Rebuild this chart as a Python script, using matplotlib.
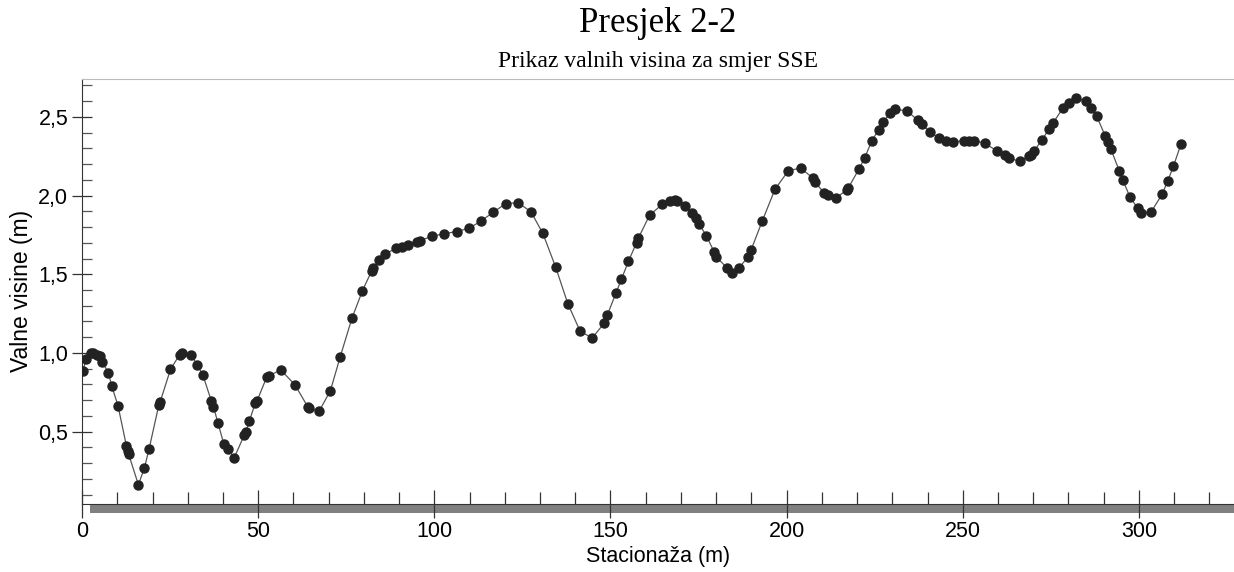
import matplotlib
matplotlib.use('Agg')
import matplotlib.pyplot as plt
import matplotlib.transforms as mtransforms
from matplotlib.patches import Rectangle
from matplotlib.ticker import MultipleLocator, FuncFormatter

# stacionaza (m) and valne visine (m)
stac = [0.2, 1.2, 2.5, 3.1, 4.1, 5.0, 5.8, 7.5, 8.4, 10.2, 12.6, 13.1, 13.2, 16.0, 17.7,
        19.0, 21.8, 22.2, 25.1, 27.7, 28.4, 31.0, 32.7, 34.3, 36.7, 37.3, 38.6, 40.2,
        41.3, 43.2, 46.1, 46.5, 47.5, 49.2, 49.7, 52.4, 53.1, 56.4, 60.4, 64.1, 64.4,
        67.3, 70.5, 73.3, 76.6, 79.6, 82.2, 82.6, 84.4, 86.0, 89.2, 90.7, 92.6, 95.0,
        95.9, 99.3, 102.8, 106.3, 109.8, 113.2, 116.7, 120.3, 123.7, 127.4, 130.8,
        134.4, 137.9, 141.4, 144.8, 148.2, 149.1, 151.6, 153.1, 155.1, 157.4, 157.9,
        161.1, 164.7, 166.9, 168.3, 169.0, 171.1, 173.1, 174.3, 175.1, 177.2, 179.4,
        180.0, 183.0, 184.6, 186.5, 189.0, 189.9, 193.1, 196.7, 200.5, 204.0, 207.4,
        208.1, 210.7, 211.8, 213.9, 217.1, 217.5, 220.6, 222.2, 224.2, 226.1, 227.4,
        229.4, 230.8, 234.2, 237.3, 238.3, 240.6, 243.3, 245.2, 247.2, 250.3, 251.8,
        253.3, 256.3, 259.6, 262.0, 263.1, 266.3, 268.9, 269.4, 270.3, 272.4, 274.5,
        275.7, 278.4, 280.1, 282.1, 284.9, 286.5, 288.0, 290.4, 291.1, 292.0, 294.4,
        295.4, 297.5, 299.7, 300.5, 303.4, 306.6, 308.2, 309.8, 312.0]
visina = [0.888, 0.962, 0.998, 1.002, 0.990, 0.983, 0.941, 0.873, 0.792, 0.665, 0.409,
          0.379, 0.358, 0.163, 0.269, 0.388, 0.670, 0.691, 0.896, 0.989, 1.002, 0.985,
          0.924, 0.860, 0.695, 0.657, 0.555, 0.424, 0.392, 0.335, 0.481, 0.496, 0.568,
          0.684, 0.697, 0.846, 0.856, 0.892, 0.799, 0.657, 0.649, 0.630, 0.761, 0.977,
          1.220, 1.396, 1.521, 1.538, 1.591, 1.629, 1.665, 1.675, 1.686, 1.707, 1.714,
          1.741, 1.758, 1.771, 1.792, 1.837, 1.894, 1.949, 1.955, 1.898, 1.760, 1.548,
          1.313, 1.138, 1.095, 1.189, 1.241, 1.383, 1.468, 1.582, 1.701, 1.729, 1.875,
          1.945, 1.966, 1.970, 1.966, 1.936, 1.889, 1.856, 1.822, 1.745, 1.644, 1.612,
          1.542, 1.508, 1.542, 1.608, 1.654, 1.839, 2.040, 2.158, 2.175, 2.112, 2.086,
          2.015, 2.004, 1.983, 2.036, 2.048, 2.171, 2.241, 2.349, 2.417, 2.466, 2.525,
          2.550, 2.537, 2.478, 2.457, 2.404, 2.366, 2.349, 2.341, 2.349, 2.349, 2.349,
          2.332, 2.285, 2.256, 2.237, 2.218, 2.254, 2.258, 2.285, 2.351, 2.423, 2.463,
          2.555, 2.586, 2.618, 2.601, 2.555, 2.506, 2.381, 2.342, 2.298, 2.158, 2.101,
          1.989, 1.919, 1.889, 1.894, 2.008, 2.093, 2.186, 2.330]

naslov = 'Presjek 2-2'
podnaslov = 'Prikaz valnih visina za smjer SSE'

sans = ['Liberation Sans', 'DejaVu Sans']
serif = ['Liberation Serif', 'DejaVu Serif']

fig = plt.figure(figsize=(12.34, 5.72), dpi=100)
ax = fig.add_axes([0.0665, 0.119, 0.9335, 0.743])

ax.plot(stac, visina, color='#555555', lw=0.9, zorder=2)
ax.plot(stac, visina, ls='none', marker='o', ms=6.5, color='#222222', zorder=3)

ax.set_xlim(0, 327)
ax.set_ylim(0.041, 2.741)

ax.xaxis.set_major_locator(MultipleLocator(50))
ax.xaxis.set_minor_locator(MultipleLocator(10))
ax.yaxis.set_major_locator(MultipleLocator(0.5))
ax.yaxis.set_minor_locator(MultipleLocator(0.1))
ax.yaxis.set_major_formatter(FuncFormatter(lambda v, p: f'{v:.1f}'.replace('.', ',')))
ax.xaxis.set_major_formatter(FuncFormatter(lambda v, p: f'{v:.0f}'))

ax.tick_params(axis='x', which='major', direction='inout', length=20, width=0.9,
               color='#333333', pad=2, labelsize=15.5)
ax.tick_params(axis='x', which='minor', direction='in', length=9, width=0.9, color='#333333')
ax.tick_params(axis='y', which='major', direction='inout', length=14, width=0.9,
               color='#333333', pad=3, labelsize=15.5)
ax.tick_params(axis='y', which='minor', direction='in', length=7.5, width=0.9, color='#555555')
for lab in ax.get_xticklabels() + ax.get_yticklabels():
    lab.set_family(sans)

ax.spines['right'].set_visible(False)
ax.spines['top'].set_color('#bbbbbb')
ax.spines['left'].set_color('#333333')
ax.spines['bottom'].set_color('#333333')

# grey ground strip under the x axis
trans = mtransforms.blended_transform_factory(ax.transData, ax.transAxes)
ax.add_patch(Rectangle((2.3, -0.021), 330, 0.018, transform=trans, clip_on=False,
                       facecolor='#808080', edgecolor='none', zorder=1))

ax.set_xlabel('Stacionaža (m)', family=sans, fontsize=15.5)
ax.set_ylabel('Valne visine (m)', family=sans, fontsize=16.5)
ax.xaxis.set_label_coords((658 - 82) / 1152, -0.1)
ax.yaxis.set_label_coords(-0.0425, 0.5)

fig.text(658 / 1234, 1 - 24 / 572, naslov, family=serif, fontsize=25,
         ha='center', va='center')
fig.text(658 / 1234, 1 - 61 / 572, podnaslov, family=serif, fontsize=17,
         ha='center', va='center')

fig.savefig('out.png', dpi=100)
